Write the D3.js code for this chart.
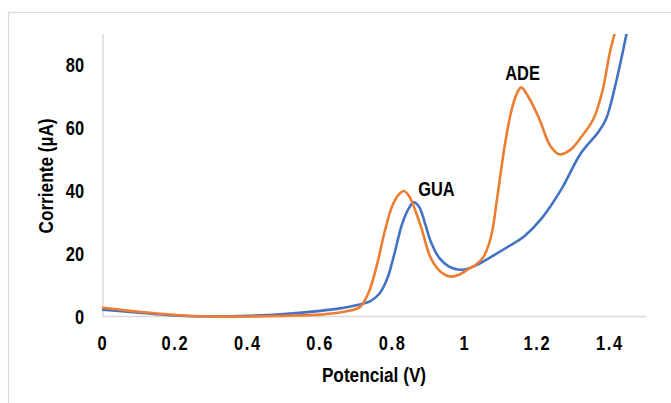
<!DOCTYPE html>
<meta charset="utf-8">
<style>

body {
  margin: 0;
  background: #fff;
}

text {
  font-family: "Liberation Sans", Arial, sans-serif;
  font-weight: bold;
  fill: #000;
}

.curve {
  fill: none;
  stroke-width: 2.6px;
  stroke-linejoin: round;
  stroke-linecap: round;
}

</style>
<body>
<script src="https://d3js.org/d3.v7.min.js"></script>
<script>

var width = 671,
    height = 403,
    narrow = 0.82; // squeeze text to look like Arial Narrow

// potencial (V) and corriente (µA)
var blueX = [0, 0.1, 0.2, 0.3, 0.4, 0.5, 0.6, 0.65, 0.7, 0.74, 0.765, 0.785, 0.805, 0.825, 0.845, 0.858,
             0.873, 0.89, 0.905, 0.93, 0.955, 0.98, 1.0, 1.03, 1.072, 1.12, 1.163, 1.21, 1.266, 1.32,
             1.368, 1.39, 1.42, 1.446];
var blueY = [2.2, 1.2, 0.3, 0, 0.2, 0.8, 1.8, 2.5, 3.6, 5, 7.5, 12, 20, 29, 34.5, 36.4,
             35, 29.5, 24, 18.5, 16, 15, 15, 16.3, 19, 22.3, 25.5, 31, 40.5, 52,
             58.7, 63, 76, 90];

var orangeX = [0, 0.1, 0.2, 0.3, 0.4, 0.5, 0.6, 0.65, 0.68, 0.71, 0.735, 0.758, 0.778, 0.8, 0.818,
               0.831, 0.845, 0.862, 0.88, 0.906, 0.935, 0.96, 0.985, 1.007, 1.03, 1.051, 1.072, 1.088,
               1.1, 1.112, 1.127, 1.142, 1.155, 1.175, 1.205, 1.235, 1.26, 1.29, 1.32, 1.355, 1.38,
               1.4, 1.413];
var orangeY = [2.8, 1.5, 0.5, 0, 0, 0.2, 0.6, 1.2, 1.8, 3, 8, 17, 27, 35.5, 39,
               40, 38.5, 34, 28, 18.5, 14, 12.7, 13.4, 14.9, 16.5, 19, 25.5, 37,
               46.9, 56, 65, 70.7, 73, 70, 63, 54.5, 51.7, 53, 57, 63, 72,
               84, 90];

var xTicks = [0, 0.2, 0.4, 0.6, 0.8, 1, 1.2, 1.4],
    yTicks = [0, 20, 40, 60, 80];

var labels = [
  {text: "GUA", x: 0.921, y: 38.5},
  {text: "ADE", x: 1.159, y: 75.5}
];

var x = d3.scaleLinear().domain([0, 1.5]).range([103, 646]);
var y = d3.scaleLinear().domain([0, 90]).range([316.5, 34]);

var svg = d3.select("body").append("svg")
    .attr("width", width)
    .attr("height", height);

// outer frame
svg.append("rect")
    .attr("x", 8.5)
    .attr("y", 12.5)
    .attr("width", 700)
    .attr("height", 420)
    .attr("fill", "none")
    .attr("stroke", "#d9d9d9")
    .attr("stroke-width", 1.2);

svg.append("clipPath")
    .attr("id", "plot")
  .append("rect")
    .attr("x", x(0) - 3)
    .attr("y", y(90))
    .attr("width", x(1.5) - x(0) + 3)
    .attr("height", y(0) - y(90) + 3);

// axis lines
svg.append("line")
    .attr("x1", x(0)).attr("x2", x(0))
    .attr("y1", y(90)).attr("y2", y(0))
    .attr("stroke", "#d9d9d9")
    .attr("stroke-width", 1.5);

svg.append("line")
    .attr("x1", x(0)).attr("x2", x(1.5))
    .attr("y1", y(0)).attr("y2", y(0))
    .attr("stroke", "#d9d9d9")
    .attr("stroke-width", 1.5);

// tick labels
svg.selectAll(".xtick")
  .data(xTicks)
  .enter().append("text")
    .attr("class", "xtick")
    .attr("transform", function(d) { return "translate(" + x(d) + ",350) scale(" + narrow + ",1)"; })
    .attr("text-anchor", "middle")
    .style("font-size", "20px")
    .style("letter-spacing", "2px")
    .text(function(d) { return String(d); });

svg.selectAll(".ytick")
  .data(yTicks)
  .enter().append("text")
    .attr("class", "ytick")
    .attr("transform", function(d) { return "translate(84," + (y(d) + 7) + ") scale(" + narrow + ",1)"; })
    .attr("text-anchor", "end")
    .style("font-size", "20px")
    .text(function(d) { return String(d); });

svg.append("text")
    .attr("transform", "translate(374,382) scale(" + narrow + ",1)")
    .attr("text-anchor", "middle")
    .style("font-size", "21px")
    .text("Potencial (V)");

svg.append("text")
    .attr("transform", "translate(53,176) rotate(-90) scale(" + narrow + ",1)")
    .attr("text-anchor", "middle")
    .style("font-size", "21px")
    .text("Corriente (µA)");

var line = d3.line()
    .x(function(d) { return x(d[0]); })
    .y(function(d) { return y(d[1]); })
    .curve(d3.curveCatmullRom.alpha(0.5));

var series = [
  {color: "#4472C4", data: d3.zip(blueX, blueY)},
  {color: "#ED7D31", data: d3.zip(orangeX, orangeY)}
];

svg.append("g")
    .attr("clip-path", "url(#plot)")
  .selectAll("path")
  .data(series)
  .enter().append("path")
    .attr("class", "curve")
    .attr("stroke", function(d) { return d.color; })
    .attr("d", function(d) { return line(d.data); });

svg.selectAll(".peak")
  .data(labels)
  .enter().append("text")
    .attr("class", "peak")
    .attr("transform", function(d) { return "translate(" + x(d.x) + "," + y(d.y) + ") scale(" + narrow + ",1)"; })
    .attr("text-anchor", "middle")
    .style("font-size", "20px")
    .text(function(d) { return d.text; });

</script>
